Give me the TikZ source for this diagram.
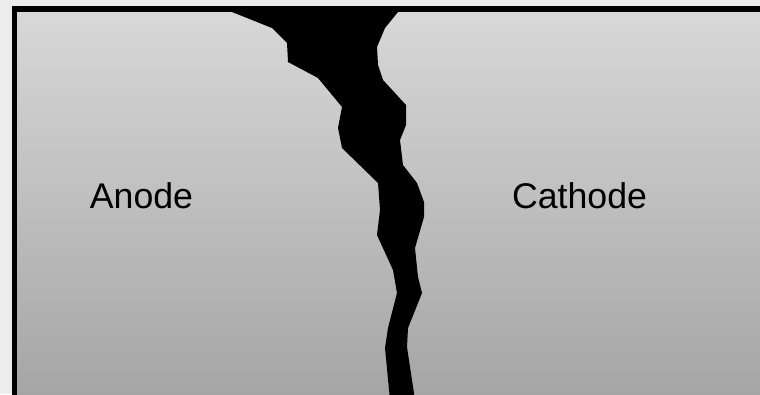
\documentclass[tikz,border=0pt]{standalone}
\usepackage{fontspec}
\setmainfont{Liberation Sans}
\usepackage{tikz}
\usetikzlibrary{positioning}
\definecolor{backdrop}{HTML}{ECECEC}
\definecolor{celltop}{HTML}{D8D8D8}
\definecolor{cellbottom}{HTML}{A4A4A4}

\begin{document}
\begin{tikzpicture}[x=1pt,y=-1pt,
  electrode/.style={font=\fontsize{35.7}{40}\selectfont,anchor=base,inner sep=0pt},
  crack/.style={fill=black,draw=none},
  wall/.style={draw=black,line width=5.5pt}]
\useasboundingbox (0,0) rectangle (760,394);
\fill[backdrop] (0,0) rectangle (760,394);
\clip (0,0) rectangle (760,394);
% cell body, runs off the right and bottom edges
\shade[top color=celltop,bottom color=cellbottom] (14.5,9) rectangle (780,404);
\draw[wall] (14.5,9) rectangle (780,410);
% the crack splitting the two electrodes
\fill[crack] (232,9) -- (232,12) -- (272,28) -- (287,43) -- (288,62) -- (318,78)
  -- (342,107) -- (338,128) -- (342,148) -- (378,183) -- (380,210) -- (377,235)
  -- (393,270) -- (397,293) -- (388,328) -- (385,348) -- (390,400)
  -- (415,400) -- (407,347) -- (408,328) -- (422,293) -- (418,277) -- (415,248)
  -- (424,217) -- (424,202) -- (417,183) -- (403,165) -- (400,140) -- (406,125)
  -- (406,105) -- (383,80) -- (378,65) -- (377,47) -- (385,28) -- (398,12)
  -- (398,9) -- cycle;
\node[electrode] (anode) at (141.5,208) {Anode};
\node[electrode] (cathode) at (579.5,208) {Cathode};
\end{tikzpicture}
\end{document}
